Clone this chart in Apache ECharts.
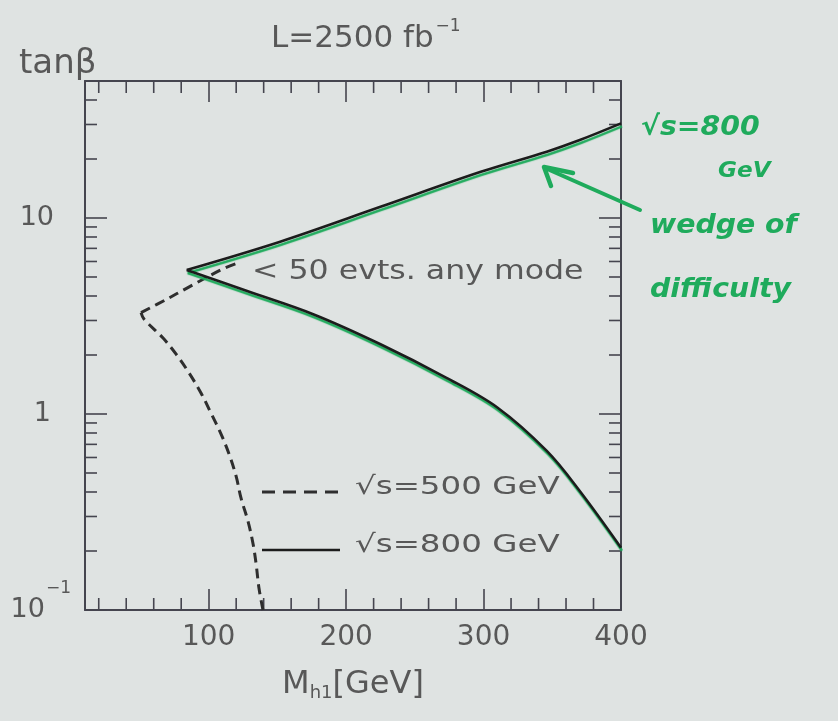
<!DOCTYPE html>
<html>
<head>
<meta charset="utf-8">
<script src="https://cdn.jsdelivr.net/npm/echarts@6/dist/echarts.min.js"></script>
<style>
  html, body { margin: 0; padding: 0; background: #dfe3e2; }
  #chart { width: 838px; height: 721px; }
</style>
</head>
<body>
<div id="chart"></div>
<script>
// sqrt(s) = 800 GeV contour: upper branch (tip to right edge) and lower branch (tip to right edge)
const upperMass = [84, 152, 225, 298, 346, 370, 400];
const upperTanB = [5.43, 7.57, 11.4, 17.2, 21.8, 25.0, 30.4];
const lowerMass = [84, 128, 176, 225, 273, 310, 346, 370, 400];
const lowerTanB = [5.43, 4.24, 3.23, 2.27, 1.53, 1.08, 0.648, 0.405, 0.208];

// sqrt(s) = 500 GeV contour: falling part (bottom edge up to the turning point) and the part running into the wedge
const fallMass500 = [139.5, 136.6, 134.5, 132.3, 128.6, 123.5, 119.9, 114.8, 109, 101.7, 94.4, 85.7, 76.3, 66.8, 52.9, 50.8];
const fallTanB500 = [0.1, 0.129, 0.172, 0.217, 0.284, 0.373, 0.483, 0.625, 0.79, 1.01, 1.28, 1.62, 2.02, 2.44, 3.05, 3.29];
const riseMass500 = [50.8, 69.7, 84.2, 110.4, 121.4];
const riseTanB500 = [3.29, 3.86, 4.39, 5.5, 5.9];

// axis ranges and tick values
const massRange = [10, 400];
const tanBRange = [0.1, 50];
const massMinorTicks = [20, 40, 60, 80, 120, 140, 160, 180, 220, 240, 260, 280, 320, 340, 360, 380];
const tanBMinorTicks = [0.2, 0.3, 0.4, 0.5, 0.6, 0.7, 0.8, 0.9, 2, 3, 4, 5, 6, 7, 8, 9, 20, 30, 40];

const seriesNames = ['\u221As=500 GeV', '\u221As=800 GeV'];

const AXIS = '#45454f';
const TEXT = '#585858';
const INK = '#1c1c1c';
const DASH = '#2e2e2e';
const MARKER = '#1fab5c';
const FONT = '"DejaVu Sans", sans-serif';

const pairs = (xs, ys) => xs.map((x, i) => [x, ys[i]]);

// minor tick marks on all four sides, placed through the axes' own scales
const tickData = massMinorTicks.map(v => [v, tanBRange[0], 0])
  .concat(tanBMinorTicks.map(v => [massRange[0], v, 1]));

function renderTick(params, api) {
  const kind = api.value(2);
  const st = { stroke: AXIS, lineWidth: 1.6 };
  const len = 12;
  if (kind === 0) {
    const v = api.value(0);
    const b = api.coord([v, tanBRange[0]]);
    const t = api.coord([v, tanBRange[1]]);
    return { type: 'group', children: [
      { type: 'line', shape: { x1: b[0], y1: b[1], x2: b[0], y2: b[1] - len }, style: st },
      { type: 'line', shape: { x1: t[0], y1: t[1], x2: t[0], y2: t[1] + len }, style: st }
    ] };
  }
  const v = api.value(1);
  const l = api.coord([massRange[0], v]);
  const r = api.coord([massRange[1], v]);
  return { type: 'group', children: [
    { type: 'line', shape: { x1: l[0], y1: l[1], x2: l[0] + len, y2: l[1] }, style: st },
    { type: 'line', shape: { x1: r[0], y1: r[1], x2: r[0] - len, y2: r[1] }, style: st }
  ] };
}

// the 800 GeV line carries a green marker stroke just beneath it
const solidStyle = {
  color: INK, width: 2.6,
  shadowColor: MARKER, shadowBlur: 1, shadowOffsetX: 1, shadowOffsetY: 3
};
const dashStyle = { color: DASH, width: 3, type: [10, 6] };

function curve(name, data, style, z) {
  return {
    name: name, type: 'line', xAxisIndex: 0, yAxisIndex: 0,
    data: data, showSymbol: false, symbol: 'none', smooth: 0.35, z: z,
    lineStyle: style
  };
}

const chart = echarts.init(document.getElementById('chart'));

function txt(x, y, text, size, color, scaleX) {
  return {
    type: 'text', x: x, y: y, scaleX: scaleX || 1, z: 20,
    style: {
      text: text, fill: color, font: size + 'px ' + FONT,
      align: 'left', verticalAlign: 'middle', textAlign: 'left', textVerticalAlign: 'middle'
    }
  };
}

function hand(x, y, text, size) {
  return {
    type: 'text', x: x, y: y, z: 20, scaleX: 1.05,
    style: {
      text: text, fill: MARKER, font: 'italic bold ' + size + 'px ' + FONT,
      align: 'left', verticalAlign: 'middle', textAlign: 'left', textVerticalAlign: 'middle'
    }
  };
}

chart.setOption({
  backgroundColor: '#dfe3e2',
  animation: false,
  title: [
    {
      text: '{a|L=2500 fb}{s|\u22121}',
      left: 266, top: 13,
      textStyle: {
        rich: {
          a: { fontSize: 31, fontWeight: 'normal', color: TEXT, fontFamily: FONT },
          s: { fontSize: 17, fontWeight: 'normal', color: TEXT, fontFamily: FONT, padding: [0, 0, 24, 2] }
        }
      }
    },
    {
      text: 'tan\u03B2',
      left: 14, top: 42,
      textStyle: { fontSize: 34, fontWeight: 'normal', color: TEXT, fontFamily: FONT }
    }
  ],
  grid: { left: 85, right: 217, top: 81, bottom: 111 },
  xAxis: [
    {
      type: 'value', min: massRange[0], max: massRange[1], position: 'bottom',
      axisLine: { lineStyle: { color: AXIS, width: 2 } },
      axisTick: { inside: true, length: 21, lineStyle: { color: AXIS, width: 1.6 } },
      splitLine: { show: false },
      axisLabel: {
        color: TEXT, fontSize: 28, fontFamily: FONT, margin: 14,
        formatter: v => (v === massRange[0] ? '' : String(v))
      },
      name: '{m|M}{s|h1}{m|[GeV]}',
      nameLocation: 'middle', nameGap: 58,
      nameTextStyle: {
        rich: {
          m: { fontSize: 32, color: TEXT, fontFamily: FONT },
          s: { fontSize: 18, color: TEXT, fontFamily: FONT, padding: [16, 0, 0, 0] }
        }
      }
    },
    {
      type: 'value', min: massRange[0], max: massRange[1], position: 'top',
      axisLine: { lineStyle: { color: AXIS, width: 2 } },
      axisTick: { inside: true, length: 21, lineStyle: { color: AXIS, width: 1.6 } },
      axisLabel: { show: false },
      splitLine: { show: false }
    }
  ],
  yAxis: [
    {
      type: 'log', logBase: 10, min: tanBRange[0], max: tanBRange[1], position: 'left',
      axisLine: { lineStyle: { color: AXIS, width: 2 } },
      axisTick: { inside: true, length: 22, lineStyle: { color: AXIS, width: 1.6 } },
      minorTick: { show: false },
      splitLine: { show: false },
      axisLabel: {
        margin: 14,
        formatter: function (v) {
          if (Math.abs(v - 0.1) < 1e-9) return '{b|10}{s|\u22121}';
          if (Math.abs(v - 1) < 1e-9) return '{one|1}';
          if (Math.abs(v - 10) < 1e-9) return '{ten|10}';
          return '';
        },
        rich: {
          b: { fontSize: 27, color: TEXT, fontFamily: FONT },
          s: { fontSize: 17, color: TEXT, fontFamily: FONT, padding: [0, 0, 42, 1] },
          one: { fontSize: 27, color: TEXT, fontFamily: FONT, padding: [0, 20, 0, 0] },
          ten: { fontSize: 27, color: TEXT, fontFamily: FONT, padding: [0, 17, 0, 0] }
        }
      }
    },
    {
      type: 'log', logBase: 10, min: tanBRange[0], max: tanBRange[1], position: 'right',
      axisLine: { lineStyle: { color: AXIS, width: 2 } },
      axisTick: { inside: true, length: 22, lineStyle: { color: AXIS, width: 1.6 } },
      axisLabel: { show: false },
      splitLine: { show: false }
    }
  ],
  series: [
    {
      name: 'minor ticks', type: 'custom', coordinateSystem: 'cartesian2d',
      xAxisIndex: 0, yAxisIndex: 0, silent: true, clip: false, z: 3,
      encode: { x: 0, y: 1 },
      data: tickData, renderItem: renderTick
    },
    curve(seriesNames[0], pairs(fallMass500, fallTanB500), dashStyle, 4),
    curve(seriesNames[0], pairs(riseMass500, riseTanB500), dashStyle, 4),
    curve(seriesNames[1], pairs(upperMass, upperTanB), solidStyle, 5),
    curve(seriesNames[1], pairs(lowerMass, lowerTanB), solidStyle, 5)
  ],
  graphic: [
    // legend
    { type: 'line', z: 20, shape: { x1: 262, y1: 492, x2: 340, y2: 492 },
      style: { stroke: DASH, lineWidth: 3, lineDash: [13, 8] } },
    txt(355, 487, seriesNames[0], 25, TEXT, 1.3),
    { type: 'line', z: 20, shape: { x1: 262, y1: 550, x2: 340, y2: 550 },
      style: { stroke: INK, lineWidth: 2.6 } },
    txt(355, 545, seriesNames[1], 25, TEXT, 1.3),
    // region label
    txt(252, 272, '< 50 evts. any mode', 27, TEXT, 1.17),
    // marker annotation
    hand(641, 128, '\u221As=800', 27),
    hand(718, 171, 'GeV', 22),
    hand(650, 226, 'wedge of', 27),
    hand(650, 290, 'difficulty', 27),
    { type: 'polyline', z: 20, shape: { points: [[640, 210], [545, 168]] },
      style: { stroke: MARKER, lineWidth: 4, lineCap: 'round', fill: null } },
    { type: 'polyline', z: 20, shape: { points: [[573, 173], [544, 167], [551, 186]] },
      style: { stroke: MARKER, lineWidth: 4.5, lineCap: 'round', lineJoin: 'round', fill: null } }
  ]
});
</script>
</body>
</html>
